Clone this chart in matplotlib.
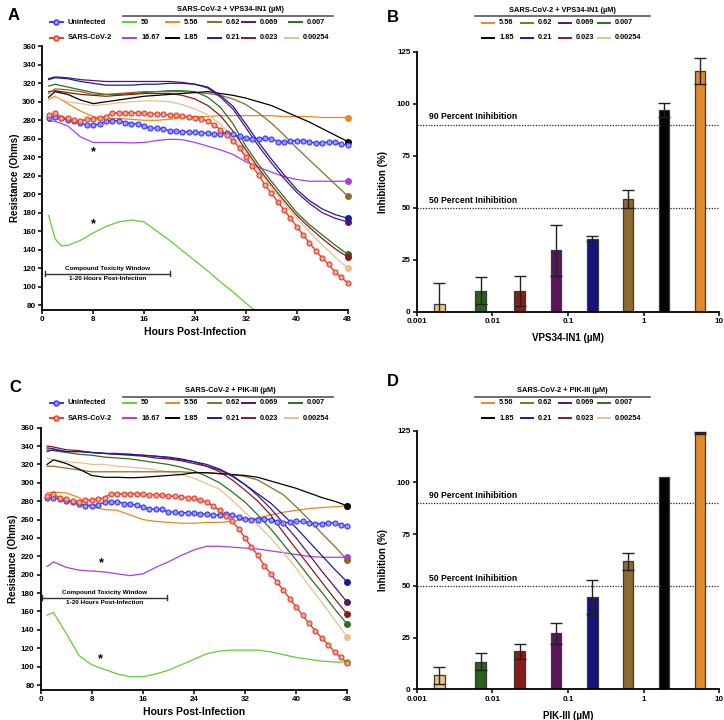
import matplotlib
matplotlib.use('Agg')
import matplotlib.pyplot as plt
from matplotlib.lines import Line2D

plt.rcParams['font.family'] = ['Liberation Sans', 'DejaVu Sans']
plt.rcParams['font.weight'] = 'bold'

# ---- data ----
hrs_ctrl = list(range(1, 49))
uninfected = [283, 284, 282, 280, 279, 277, 275, 275, 276, 279, 279.5, 279.5, 277.5, 276.5, 276, 273.5,
              271.5, 271.5, 271, 268.5, 268, 267.5, 267.5, 267, 266.5, 266, 265, 265, 266, 265, 262.5, 260.5,
              260, 260, 260.5, 260, 257, 256, 257.5, 258, 258, 256.5, 255.5, 255.5, 256.5, 256.5, 254, 253]
sars = [285.5, 288, 283, 282, 280, 279.5, 281, 281.5, 282, 284, 288, 288, 288, 288, 288, 287.5,
        287, 287, 286.5, 285.5, 285.5, 285, 283.5, 283, 281.5, 279, 275, 270, 264, 258, 250, 240,
        230, 221, 210, 201, 192, 183, 174, 165, 156, 147, 139, 131, 124, 116, 110, 104]

hrs = [1, 2, 4, 6, 8, 10, 12, 14, 16, 18, 20, 22, 24, 26, 28, 30, 32, 34, 36, 38, 40, 42, 44, 46, 48]

conc_labels = ['50', '16.67', '5.56', '1.85', '0.62', '0.21', '0.069', '0.023', '0.007', '0.00254']
conc_colors = ['#66c93a', '#a43ff0', '#e8891f', '#000000', '#8a6d2b', '#1c1c9e', '#5c1563', '#8b1a1a',
               '#2e6e1e', '#ebc08a']

# panel A (VPS34-IN1)
a_hrs_50 = [1, 2, 3, 4, 6, 8, 10, 12, 14, 16, 18, 20, 22, 24, 26, 28, 30, 32, 34]
a_50 = [177, 152, 144, 144.5, 150, 158, 165, 170, 172, 170, 160, 150, 139, 128, 117, 105, 94, 82, 71]
a_16 = [279, 279, 274, 262, 256, 256, 256, 255.5, 256, 258, 259.5, 259, 256, 252, 248, 243, 235, 229,
        224, 219, 216, 214, 214, 214, 214]
a_5 = [303, 306, 298, 290, 284, 282, 282, 281, 280, 280, 281, 283, 284, 284, 285, 285, 285, 285, 285,
       284, 284, 284, 283, 283, 283]
a_1 = [305, 311, 308, 302, 298, 300, 302, 304, 306, 307, 308, 309, 310, 311, 309, 307, 304, 300, 296,
       290, 284, 278, 271, 264, 257]
a_062 = [309, 314, 313, 311, 308, 308, 309, 310, 311, 311, 311, 311, 310, 309, 307, 303, 297, 288, 277,
         264, 250, 237, 224, 211, 198]
a_021 = [324, 326, 325, 322, 320, 318, 318, 318, 319, 319, 320, 320, 319, 316, 307, 295, 276, 256, 238,
         221, 205, 193, 184, 178, 174]
a_0069 = [325, 327, 326, 324, 323, 322, 322, 322, 322, 322, 322, 321, 319, 315, 305, 292, 272, 252, 234,
          217, 202, 190, 180, 174, 170]
a_0023 = [311, 312, 310, 308, 307, 306, 307, 308, 309, 309, 309, 307, 303, 296, 285, 268, 248, 228, 210,
          193, 177, 164, 152, 141, 132]
a_0007 = [317, 319, 316, 313, 310, 308, 308, 309, 310, 311, 312, 312, 311, 305, 294, 276, 252, 232, 214,
          197, 180, 167, 156, 145, 135]
a_00025 = [302, 305, 300, 298, 296, 297, 299, 300, 301, 301, 300, 297, 292, 286, 276, 262, 244, 225, 207,
           190, 174, 159, 145, 132, 120]

# panel C (PIK-III)
c_50 = [156, 159, 136, 112, 102, 97, 92, 89, 89, 92, 96, 102, 108, 114, 117, 118, 118, 118, 116, 113,
        110, 108, 106, 105, 105]
c_16 = [209, 214, 208, 205, 204, 203, 201, 199, 201, 208, 214, 221, 227, 231, 231, 230, 229, 228, 226,
        224, 222, 220, 219, 219, 219]
c_5 = [289, 290, 289, 284, 274, 271, 270, 265, 260, 258, 257, 256, 256, 257, 257, 258, 260, 262, 265,
       268, 270, 272, 273, 274, 275]
c_1 = [320, 325, 321, 315, 308, 306, 306, 305.5, 306, 307, 308, 309, 311, 311, 310, 309, 308, 306, 302,
       298, 294, 289, 284, 280, 275]
c_062 = [318, 318, 316, 314, 312, 312, 312, 312, 312, 312, 312, 312, 311, 311, 310, 309, 307, 303, 295,
         287, 274, 260, 245, 231, 216]
c_021 = [334, 336, 334, 334, 333, 332, 331, 331, 330, 329, 328, 326, 323, 320, 315, 308, 298, 288, 278,
         265, 251, 236, 221, 206, 192]
c_0069 = [338, 337, 334, 334, 333, 332, 331, 330, 329, 327, 326, 324, 321, 318, 314, 307, 298, 286, 272,
          256, 240, 222, 204, 187, 170]
c_0023 = [340, 339, 336, 335, 333, 332, 332, 331, 330, 329, 327, 325, 323, 318, 312, 303, 292, 280, 265,
          246, 228, 210, 192, 174, 157]
c_0007 = [336, 335, 333, 331, 330, 328, 327, 326, 324, 322, 320, 317, 313, 307, 300, 290, 279, 265, 250,
          233, 216, 198, 181, 163, 146]
c_00025 = [327, 325, 323, 322, 320, 320, 318, 317, 316, 314, 312, 309, 305, 299, 293, 281, 268, 254, 240,
           224, 207, 188, 170, 151, 132]

# bar panels
bar_x = [0.002, 0.007, 0.023, 0.069, 0.21, 0.62, 1.85, 5.56]
bar_colors = ['#e6c48a', '#2f5d1a', '#8a1c18', '#5c1459', '#17137d', '#8b6a2c', '#000000', '#e0882a']
b_vals = [3.7, 10.2, 10.0, 29.5, 35.0, 54.2, 97.0, 115.8]
b_err = [10.2, 6.4, 7.4, 12.4, 1.2, 4.4, 3.6, 6.4]
d_vals = [6.9, 13.4, 18.4, 27.0, 44.8, 61.8, 102.4, 124.0]
d_err = [4.1, 4.1, 3.6, 5.2, 8.2, 4.1, 0.0, 0.6]

W, H = 724, 720
fig = plt.figure(figsize=(W / 100, H / 100), dpi=100)


def fx(x):
    return x / W


def fy(y):
    return 1 - y / H


def style_axes(ax):
    for s in ['top', 'right']:
        ax.spines[s].set_visible(False)
    for s in ['left', 'bottom']:
        ax.spines[s].set_linewidth(1.3)
    ax.tick_params(direction='out', length=3, width=1.1, labelsize=5.8, pad=1.5)
    for lab in ax.get_xticklabels() + ax.get_yticklabels():
        lab.set_fontweight('bold')


def line_panel(rect, series, lg_hrs, lg_vals, lg_marker, stars, bracket):
    ax = fig.add_axes(rect)
    # light green (50 uM)
    ax.plot(lg_hrs, lg_vals, color=conc_colors[0], lw=0.9, zorder=2)
    if lg_marker:
        ax.plot(48, lg_vals[-1], 'o', color=conc_colors[0], ms=4, clip_on=False, zorder=5)
    for vals, col in series:
        ax.plot(hrs, vals, color=col, lw=0.9, zorder=2)
        ax.plot(48, vals[-1], 'o', color=col, ms=4, clip_on=False, zorder=5)
    ax.plot(hrs_ctrl, uninfected, '-o', color='#3535ff', lw=1.0, ms=3.6, mfc='#9d9dff', mec='#3535ff',
            mew=0.8, zorder=6, clip_on=False)
    ax.plot(hrs_ctrl, sars, '-o', color='#e0402a', lw=1.0, ms=3.6, mfc='#f2a493', mec='#e0402a',
            mew=0.8, zorder=7, clip_on=False)
    ax.set_xlim(0, 48)
    ax.set_ylim(75, 360)
    ax.set_xticks(range(0, 49, 8))
    ax.set_yticks(range(80, 361, 20))
    style_axes(ax)
    ax.set_ylabel('Resistance (Ohms)', fontsize=7, fontweight='bold', labelpad=2)
    ax.set_xlabel('Hours Post-Infection', fontsize=7.5, fontweight='bold', labelpad=3)
    for sx, sy in stars:
        ax.text(sx, sy, '*', fontsize=9, fontweight='bold', ha='center', va='center')
    x0, x1, by = bracket
    ax.plot([x0, x1], [by, by], color='#333333', lw=1)
    ax.plot([x0, x0], [by - 2.5, by + 2.5], color='#333333', lw=1)
    ax.plot([x1, x1], [by - 2.5, by + 2.5], color='#333333', lw=1)
    ax.text((x0 + x1) / 2, by + 3, 'Compound Toxicity Window', fontsize=4.6, fontweight='bold',
            ha='center', va='bottom')
    ax.text((x0 + x1) / 2, by - 3, '1-20 Hours Post-Infection', fontsize=4.6, fontweight='bold',
            ha='center', va='top')
    return ax


def bar_panel(rect, vals, errs, xlabel):
    ax = fig.add_axes(rect)
    ax.set_xscale('log')
    w = 0.138
    for x, v, e, c in zip(bar_x, vals, errs, bar_colors):
        left = x * 10 ** (-w / 2)
        right = x * 10 ** (w / 2)
        ax.bar(left, v, width=right - left, align='edge', color=c, edgecolor='#3a3a3a', lw=0.9, zorder=2)
        if e > 0:
            ax.errorbar(x, v, yerr=e, fmt='none', ecolor='#222222', elinewidth=1.0, capsize=4.5,
                        capthick=1.0, zorder=3)
    ax.plot([0.001, 10], [90, 90], ls=(0, (1, 1.2)), color='#222222', lw=0.9, zorder=1)
    ax.plot([0.001, 10], [50, 50], ls=(0, (1, 1.2)), color='#222222', lw=0.9, zorder=1)
    ax.text(0.00146, 91.5, '90 Percent Inihibition', fontsize=6.2, fontweight='bold', va='bottom')
    ax.text(0.00146, 51.5, '50 Percent Inihibition', fontsize=6.2, fontweight='bold', va='bottom')
    ax.set_xlim(0.001, 10)
    ax.set_ylim(0, 125)
    ax.set_xticks([0.001, 0.01, 0.1, 1, 10])
    ax.set_xticklabels(['0.001', '0.01', '0.1', '1', '10'])
    ax.minorticks_off()
    ax.set_yticks([0, 25, 50, 75, 100, 125])
    style_axes(ax)
    ax.set_ylabel('Inhibition (%)', fontsize=7, fontweight='bold', labelpad=6)
    ax.set_xlabel(xlabel, fontsize=7, fontweight='bold', labelpad=6)
    return ax


def key(x0, y, color, label, length=13, marker=None, mfc=None):
    fig.add_artist(Line2D([fx(x0), fx(x0 + length)], [fy(y), fy(y)], color=color, lw=1.4,
                          transform=fig.transFigure))
    if marker:
        fig.add_artist(Line2D([fx(x0 + length / 2)], [fy(y)], marker='o', ms=3.6, color=color, mfc=mfc,
                              mec=color, transform=fig.transFigure))
    fig.text(fx(x0 + length + 5), fy(y), label, fontsize=5.3, fontweight='bold', va='center', ha='left')


def line_legend(title, y_head, y_rule, y1, y2):
    fig.text(fx(230), fy(y_head), title, fontsize=5.3, fontweight='bold', ha='center', va='center')
    fig.add_artist(Line2D([fx(123), fx(333)], [fy(y_rule), fy(y_rule)], color='#555555', lw=1.2,
                          transform=fig.transFigure))
    key(50, y1, '#3535ff', 'Uninfected', marker=True, mfc='#9d9dff')
    key(50, y2, '#e0402a', 'SARS-CoV-2', marker=True, mfc='#f2a493')
    cols1 = [123, 166, 208, 242, 289]
    cols2 = [123, 166, 208, 242, 285]
    for cx, i in zip(cols1, [0, 2, 4, 6, 8]):
        key(cx, y1, conc_colors[i], conc_labels[i])
    for cx, i in zip(cols2, [1, 3, 5, 7, 9]):
        key(cx, y2, conc_colors[i], conc_labels[i])


def bar_legend(title, y_head, y_rule, y1, y2):
    fig.text(fx(562), fy(y_head), title, fontsize=5.3, fontweight='bold', ha='center', va='center')
    fig.add_artist(Line2D([fx(475), fx(650)], [fy(y_rule), fy(y_rule)], color='#555555', lw=1.2,
                          transform=fig.transFigure))
    cols = [482, 521, 559, 598]
    for cx, i in zip(cols, [2, 4, 6, 8]):
        key(cx, y1, conc_colors[i], conc_labels[i], length=12)
    for cx, i in zip(cols, [3, 5, 7, 9]):
        key(cx, y2, conc_colors[i], conc_labels[i], length=12)


# ---- panel A ----
a_series = [(a_16, conc_colors[1]), (a_5, conc_colors[2]), (a_00025, conc_colors[9]),
            (a_0007, conc_colors[8]), (a_0023, conc_colors[7]), (a_062, conc_colors[4]),
            (a_1, conc_colors[3]), (a_0069, conc_colors[6]), (a_021, conc_colors[5])]
line_panel([0.0584, 0.5699, 0.4218, 0.3657], a_series, a_hrs_50, a_50, False,
           [(8, 246), (8, 168)], (0.5, 20, 114))
line_legend('SARS-CoV-2 + VPS34-IN1 (µM)', 9.5, 15.7, 22.3, 37.7)

# ---- panel C ----
c_series = [(c_16, conc_colors[1]), (c_5, conc_colors[2]), (c_00025, conc_colors[9]),
            (c_0007, conc_colors[8]), (c_0023, conc_colors[7]), (c_062, conc_colors[4]),
            (c_1, conc_colors[3]), (c_0069, conc_colors[6]), (c_021, conc_colors[5])]
line_panel([0.0562, 0.0422, 0.4235, 0.3638], c_series, hrs, c_50, True,
           [(9.5, 213), (9.3, 108)], (0.2, 19.7, 175))
line_legend('SARS-CoV-2 + PIK-III (µM)', 390, 396.7, 402.7, 418.3)

# ---- panel B / D ----
bar_panel([0.5755, 0.567, 0.418, 0.3611], b_vals, b_err, 'VPS34-IN1 (µM)')
bar_legend('SARS-CoV-2 + VPS34-IN1 (µM)', 11, 16, 22.7, 37.7)
bar_panel([0.5755, 0.0426, 0.418, 0.3592], d_vals, d_err, 'PIK-III (µM)')
bar_legend('SARS-CoV-2 + PIK-III (µM)', 391, 396.7, 402.7, 418.3)

# panel letters
for lx, ly, s in [(14, 16, 'A'), (393, 17, 'B'), (15, 387, 'C'), (393, 382, 'D')]:
    fig.text(fx(lx), fy(ly), s, fontsize=12, fontweight='bold', ha='center', va='center')

fig.savefig('out.png', dpi=100)
